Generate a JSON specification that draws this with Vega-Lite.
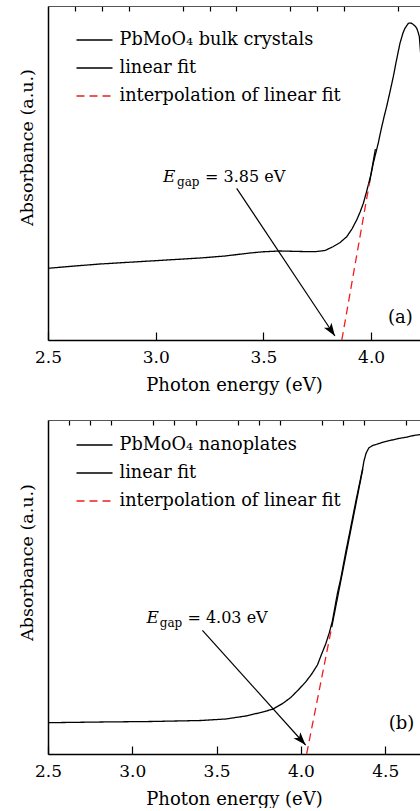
{
  "$schema": "https://vega.github.io/schema/vega-lite/v6.json",
  "padding": {"left": 18, "top": 5, "right": 0, "bottom": 0},
  "spacing": 25,
  "config": {
    "view": {"stroke": null},
    "font": "DejaVu Serif",
    "axis": {"labelFont": "DejaVu Serif", "titleFont": "DejaVu Serif", "labelColor": "black", "titleColor": "black", "titleFontWeight": "normal", "domainColor": "black", "tickColor": "black", "grid": false, "labelFontSize": 17, "titleFontSize": 18, "labelFlush": false},
    "text": {"font": "DejaVu Serif", "color": "black"}
  },
  "resolve": {"scale": {"color": "independent", "strokeDash": "independent"}, "legend": {"color": "independent", "strokeDash": "independent"}},
  "vconcat": [
    {
      "width": 372,
      "height": 334,
      "resolve": {"axis": {"x": "independent"}},
      "encoding": {
        "y": {"field": "A", "type": "quantitative", "scale": {"domain": [0, 1], "nice": false, "zero": false},
          "axis": {"title": "Absorbance (a.u.)", "titleFontSize": 17.5, "ticks": false, "labels": false, "domainWidth": 1.5, "titlePadding": 12, "titleY": 141}}
      },
      "layer": [
        {
          "data": {"values": [
            {"series": "PbMoO₄ bulk crystals", "E": 2.5, "A": 0.2147},
            {"series": "PbMoO₄ bulk crystals", "E": 2.625, "A": 0.2216},
            {"series": "PbMoO₄ bulk crystals", "E": 2.741, "A": 0.2275},
            {"series": "PbMoO₄ bulk crystals", "E": 2.857, "A": 0.2320},
            {"series": "PbMoO₄ bulk crystals", "E": 2.974, "A": 0.2365},
            {"series": "PbMoO₄ bulk crystals", "E": 3.090, "A": 0.2410},
            {"series": "PbMoO₄ bulk crystals", "E": 3.206, "A": 0.2455},
            {"series": "PbMoO₄ bulk crystals", "E": 3.322, "A": 0.2515},
            {"series": "PbMoO₄ bulk crystals", "E": 3.438, "A": 0.2605},
            {"series": "PbMoO₄ bulk crystals", "E": 3.498, "A": 0.2641},
            {"series": "PbMoO₄ bulk crystals", "E": 3.577, "A": 0.2665},
            {"series": "PbMoO₄ bulk crystals", "E": 3.670, "A": 0.2650},
            {"series": "PbMoO₄ bulk crystals", "E": 3.740, "A": 0.2644},
            {"series": "PbMoO₄ bulk crystals", "E": 3.786, "A": 0.2680},
            {"series": "PbMoO₄ bulk crystals", "E": 3.823, "A": 0.2793},
            {"series": "PbMoO₄ bulk crystals", "E": 3.856, "A": 0.2919},
            {"series": "PbMoO₄ bulk crystals", "E": 3.887, "A": 0.3093},
            {"series": "PbMoO₄ bulk crystals", "E": 3.911, "A": 0.3323},
            {"series": "PbMoO₄ bulk crystals", "E": 3.933, "A": 0.3593},
            {"series": "PbMoO₄ bulk crystals", "E": 3.949, "A": 0.3832},
            {"series": "PbMoO₄ bulk crystals", "E": 3.964, "A": 0.4093},
            {"series": "PbMoO₄ bulk crystals", "E": 3.976, "A": 0.4371},
            {"series": "PbMoO₄ bulk crystals", "E": 3.987, "A": 0.4641},
            {"series": "PbMoO₄ bulk crystals", "E": 4.000, "A": 0.4970},
            {"series": "PbMoO₄ bulk crystals", "E": 4.010, "A": 0.5290},
            {"series": "PbMoO₄ bulk crystals", "E": 4.023, "A": 0.5629},
            {"series": "PbMoO₄ bulk crystals", "E": 4.033, "A": 0.5889},
            {"series": "PbMoO₄ bulk crystals", "E": 4.046, "A": 0.6287},
            {"series": "PbMoO₄ bulk crystals", "E": 4.060, "A": 0.6677},
            {"series": "PbMoO₄ bulk crystals", "E": 4.072, "A": 0.6985},
            {"series": "PbMoO₄ bulk crystals", "E": 4.088, "A": 0.7440},
            {"series": "PbMoO₄ bulk crystals", "E": 4.103, "A": 0.7883},
            {"series": "PbMoO₄ bulk crystals", "E": 4.118, "A": 0.8383},
            {"series": "PbMoO₄ bulk crystals", "E": 4.134, "A": 0.8883},
            {"series": "PbMoO₄ bulk crystals", "E": 4.148, "A": 0.9192},
            {"series": "PbMoO₄ bulk crystals", "E": 4.157, "A": 0.9332},
            {"series": "PbMoO₄ bulk crystals", "E": 4.173, "A": 0.9482},
            {"series": "PbMoO₄ bulk crystals", "E": 4.185, "A": 0.9491},
            {"series": "PbMoO₄ bulk crystals", "E": 4.193, "A": 0.9461},
            {"series": "PbMoO₄ bulk crystals", "E": 4.204, "A": 0.9401},
            {"series": "PbMoO₄ bulk crystals", "E": 4.212, "A": 0.9332},
            {"series": "PbMoO₄ bulk crystals", "E": 4.218, "A": 0.9222},
            {"series": "PbMoO₄ bulk crystals", "E": 4.224, "A": 0.9081},
            {"series": "PbMoO₄ bulk crystals", "E": 4.227, "A": 0.8832},
            {"series": "PbMoO₄ bulk crystals", "E": 4.236, "A": 0.8084},
            {"series": "linear fit", "E": 3.992, "A": 0.4692},
            {"series": "linear fit", "E": 4.020, "A": 0.5718},
            {"series": "interpolation of linear fit", "E": 3.864, "A": 0.0},
            {"series": "interpolation of linear fit", "E": 3.992, "A": 0.4692}
          ]},
          "mark": {"type": "line", "strokeWidth": 1.3, "clip": true},
          "encoding": {
            "x": {"field": "E", "type": "quantitative", "scale": {"domain": [2.5, 4.227], "nice": false, "zero": false},
              "axis": {"values": [2.5, 3, 3.5, 4], "format": ".1f", "tickSize": -8, "tickWidth": 1.2, "domainWidth": 1.5, "labelPadding": 17, "title": "Photon energy (eV)", "titlePadding": 11}},
            "color": {"field": "series", "type": "nominal",
              "scale": {"domain": ["PbMoO₄ bulk crystals", "linear fit", "interpolation of linear fit"], "range": ["black", "black", "#f01e1e"]},
              "legend": {"orient": "none", "legendX": 27.5, "legendY": 15, "title": null, "symbolType": "stroke", "symbolSize": 1296, "symbolStrokeWidth": 1.3, "labelFont": "DejaVu Serif", "labelFontSize": 17.7, "labelColor": "black", "labelOffset": 6, "labelLimit": 400, "rowPadding": -1.3, "padding": 0}},
            "strokeDash": {"field": "series", "type": "nominal",
              "scale": {"domain": ["PbMoO₄ bulk crystals", "linear fit", "interpolation of linear fit"], "range": [[1, 0], [1, 0], [8, 5]]},
              "legend": {"orient": "none", "legendX": 27.5, "legendY": 15, "title": null, "symbolType": "stroke", "symbolSize": 1296, "symbolStrokeWidth": 1.3, "labelFont": "DejaVu Serif", "labelFontSize": 17.7, "labelColor": "black", "labelOffset": 6, "labelLimit": 400, "rowPadding": -1.3, "padding": 0}}
          }
        },
        {
          "data": {"values": [{"E": 3.376, "A": 0.4542, "E2": 3.832, "A2": 0.012}]},
          "mark": {"type": "rule", "strokeWidth": 1.2, "color": "black"},
          "encoding": {
            "x": {"field": "E", "type": "quantitative", "scale": {"domain": [2.5, 4.227], "nice": false, "zero": false},
              "axis": {"values": [2.625, 2.75, 2.875, 3.125, 3.25, 3.375, 3.625, 3.75, 3.875, 4.125], "tickSize": -5, "tickWidth": 1.2, "labels": false, "domain": false, "title": null}},
            "x2": {"field": "E2"},
            "y2": {"field": "A2"}
          }
        },
        {
          "data": {"values": [{"E": 3.832, "A": 0.012}]},
          "mark": {"type": "point", "filled": true, "opacity": 1, "color": "black", "shape": "M0,0 L0.7,2 L0,1.5 L-0.7,2 Z", "size": 169, "angle": 146.4},
          "encoding": {
            "x": {"field": "E", "type": "quantitative", "scale": {"domain": [2.5, 4.227], "nice": false, "zero": false},
              "axis": {"orient": "top", "labels": false, "ticks": false, "title": null, "domainColor": "#555555", "domainWidth": 1.2}}
          }
        },
        {
          "data": {"values": [{"E": 3.034, "A": 0.474, "t": "E"}]},
          "mark": {"type": "text", "align": "left", "baseline": "alphabetic", "fontSize": 17, "fontStyle": "italic"},
          "encoding": {"x": {"field": "E", "type": "quantitative", "axis": null}, "text": {"field": "t"}}
        },
        {
          "data": {"values": [{"E": 3.099, "A": 0.461, "t": "gap"}]},
          "mark": {"type": "text", "align": "left", "baseline": "alphabetic", "fontSize": 12},
          "encoding": {"x": {"field": "E", "type": "quantitative", "axis": null}, "text": {"field": "t"}}
        },
        {
          "data": {"values": [{"E": 3.229, "A": 0.474, "t": "= 3.85 eV"}]},
          "mark": {"type": "text", "align": "left", "baseline": "alphabetic", "fontSize": 16},
          "encoding": {"x": {"field": "E", "type": "quantitative", "axis": null}, "text": {"field": "t"}}
        },
        {
          "data": {"values": [{"E": 4.0785, "A": 0.050, "t": "(a)"}]},
          "mark": {"type": "text", "align": "left", "baseline": "alphabetic", "fontSize": 18},
          "encoding": {"x": {"field": "E", "type": "quantitative", "axis": null}, "text": {"field": "t"}}
        }
      ]
    },
    {
      "width": 372,
      "height": 334,
      "resolve": {"axis": {"x": "independent"}},
      "encoding": {
        "y": {"field": "A", "type": "quantitative", "scale": {"domain": [0, 1], "nice": false, "zero": false},
          "axis": {"title": "Absorbance (a.u.)", "titleFontSize": 17.5, "ticks": false, "labels": false, "domainWidth": 1.5, "titlePadding": 12, "titleY": 142}}
      },
      "layer": [
        {
          "data": {"values": [
            {"series": "PbMoO₄ nanoplates", "E": 2.5, "A": 0.0937},
            {"series": "PbMoO₄ nanoplates", "E": 2.813, "A": 0.0958},
            {"series": "PbMoO₄ nanoplates", "E": 3.109, "A": 0.0973},
            {"series": "PbMoO₄ nanoplates", "E": 3.406, "A": 0.1003},
            {"series": "PbMoO₄ nanoplates", "E": 3.554, "A": 0.1048},
            {"series": "PbMoO₄ nanoplates", "E": 3.673, "A": 0.1138},
            {"series": "PbMoO₄ nanoplates", "E": 3.762, "A": 0.1243},
            {"series": "PbMoO₄ nanoplates", "E": 3.831, "A": 0.1338},
            {"series": "PbMoO₄ nanoplates", "E": 3.892, "A": 0.1512},
            {"series": "PbMoO₄ nanoplates", "E": 3.940, "A": 0.1692},
            {"series": "PbMoO₄ nanoplates", "E": 3.987, "A": 0.1931},
            {"series": "PbMoO₄ nanoplates", "E": 4.028, "A": 0.2156},
            {"series": "PbMoO₄ nanoplates", "E": 4.064, "A": 0.2395},
            {"series": "PbMoO₄ nanoplates", "E": 4.098, "A": 0.2665},
            {"series": "PbMoO₄ nanoplates", "E": 4.123, "A": 0.2994},
            {"series": "PbMoO₄ nanoplates", "E": 4.147, "A": 0.3293},
            {"series": "PbMoO₄ nanoplates", "E": 4.168, "A": 0.3623},
            {"series": "PbMoO₄ nanoplates", "E": 4.187, "A": 0.3982},
            {"series": "PbMoO₄ nanoplates", "E": 4.203, "A": 0.4431},
            {"series": "PbMoO₄ nanoplates", "E": 4.217, "A": 0.4820},
            {"series": "PbMoO₄ nanoplates", "E": 4.236, "A": 0.5240},
            {"series": "PbMoO₄ nanoplates", "E": 4.266, "A": 0.6048},
            {"series": "PbMoO₄ nanoplates", "E": 4.295, "A": 0.6775},
            {"series": "PbMoO₄ nanoplates", "E": 4.325, "A": 0.7545},
            {"series": "PbMoO₄ nanoplates", "E": 4.355, "A": 0.8272},
            {"series": "PbMoO₄ nanoplates", "E": 4.367, "A": 0.8563},
            {"series": "PbMoO₄ nanoplates", "E": 4.374, "A": 0.8772},
            {"series": "PbMoO₄ nanoplates", "E": 4.387, "A": 0.9012},
            {"series": "PbMoO₄ nanoplates", "E": 4.404, "A": 0.9171},
            {"series": "PbMoO₄ nanoplates", "E": 4.426, "A": 0.9237},
            {"series": "PbMoO₄ nanoplates", "E": 4.454, "A": 0.9281},
            {"series": "PbMoO₄ nanoplates", "E": 4.491, "A": 0.9341},
            {"series": "PbMoO₄ nanoplates", "E": 4.533, "A": 0.9392},
            {"series": "PbMoO₄ nanoplates", "E": 4.580, "A": 0.9446},
            {"series": "PbMoO₄ nanoplates", "E": 4.632, "A": 0.9491},
            {"series": "PbMoO₄ nanoplates", "E": 4.669, "A": 0.9536},
            {"series": "PbMoO₄ nanoplates", "E": 4.711, "A": 0.9566},
            {"series": "PbMoO₄ nanoplates", "E": 4.728, "A": 0.9581},
            {"series": "linear fit", "E": 4.183, "A": 0.3802},
            {"series": "linear fit", "E": 4.367, "A": 0.8533},
            {"series": "interpolation of linear fit", "E": 4.034, "A": 0.0},
            {"series": "interpolation of linear fit", "E": 4.183, "A": 0.3802}
          ]},
          "mark": {"type": "line", "strokeWidth": 1.3, "clip": true},
          "encoding": {
            "x": {"field": "E", "type": "quantitative", "scale": {"domain": [2.5, 4.7064], "nice": false, "zero": false},
              "axis": {"values": [2.5, 3, 3.5, 4, 4.5], "format": ".1f", "tickSize": -8, "tickWidth": 1.2, "domainWidth": 1.5, "labelPadding": 17, "title": "Photon energy (eV)", "titlePadding": 11}},
            "color": {"field": "series", "type": "nominal",
              "scale": {"domain": ["PbMoO₄ nanoplates", "linear fit", "interpolation of linear fit"], "range": ["black", "black", "#f01e1e"]},
              "legend": {"orient": "none", "legendX": 27.5, "legendY": 6, "title": null, "symbolType": "stroke", "symbolSize": 1296, "symbolStrokeWidth": 1.3, "labelFont": "DejaVu Serif", "labelFontSize": 17.7, "labelColor": "black", "labelOffset": 6, "labelLimit": 400, "rowPadding": -1.3, "padding": 0}},
            "strokeDash": {"field": "series", "type": "nominal",
              "scale": {"domain": ["PbMoO₄ nanoplates", "linear fit", "interpolation of linear fit"], "range": [[1, 0], [1, 0], [8, 5]]},
              "legend": {"orient": "none", "legendX": 27.5, "legendY": 6, "title": null, "symbolType": "stroke", "symbolSize": 1296, "symbolStrokeWidth": 1.3, "labelFont": "DejaVu Serif", "labelFontSize": 17.7, "labelColor": "black", "labelOffset": 6, "labelLimit": 400, "rowPadding": -1.3, "padding": 0}}
          }
        },
        {
          "data": {"values": [{"E": 3.416, "A": 0.3704, "E2": 4.028, "A2": 0.027}]},
          "mark": {"type": "rule", "strokeWidth": 1.2, "color": "black"},
          "encoding": {
            "x": {"field": "E", "type": "quantitative", "scale": {"domain": [2.5, 4.7064], "nice": false, "zero": false},
              "axis": {"values": [2.625, 2.75, 2.875, 3.125, 3.25, 3.375, 3.625, 3.75, 3.875, 4.125, 4.25, 4.375, 4.625], "tickSize": -5, "tickWidth": 1.2, "labels": false, "domain": false, "title": null}},
            "x2": {"field": "E2"},
            "y2": {"field": "A2"}
          }
        },
        {
          "data": {"values": [{"E": 4.028, "A": 0.027}]},
          "mark": {"type": "point", "filled": true, "opacity": 1, "color": "black", "shape": "M0,0 L0.7,2 L0,1.5 L-0.7,2 Z", "size": 169, "angle": 138},
          "encoding": {
            "x": {"field": "E", "type": "quantitative", "scale": {"domain": [2.5, 4.7064], "nice": false, "zero": false},
              "axis": {"orient": "top", "labels": false, "ticks": false, "title": null, "domainColor": "#555555", "domainWidth": 1.2}}
          }
        },
        {
          "data": {"values": [{"E": 3.084, "A": 0.3931, "t": "E"}]},
          "mark": {"type": "text", "align": "left", "baseline": "alphabetic", "fontSize": 17, "fontStyle": "italic"},
          "encoding": {"x": {"field": "E", "type": "quantitative", "axis": null}, "text": {"field": "t"}}
        },
        {
          "data": {"values": [{"E": 3.1625, "A": 0.3802, "t": "gap"}]},
          "mark": {"type": "text", "align": "left", "baseline": "alphabetic", "fontSize": 12},
          "encoding": {"x": {"field": "E", "type": "quantitative", "axis": null}, "text": {"field": "t"}}
        },
        {
          "data": {"values": [{"E": 3.327, "A": 0.3931, "t": "= 4.03 eV"}]},
          "mark": {"type": "text", "align": "left", "baseline": "alphabetic", "fontSize": 16},
          "encoding": {"x": {"field": "E", "type": "quantitative", "axis": null}, "text": {"field": "t"}}
        },
        {
          "data": {"values": [{"E": 4.5207, "A": 0.074, "t": "(b)"}]},
          "mark": {"type": "text", "align": "left", "baseline": "alphabetic", "fontSize": 18},
          "encoding": {"x": {"field": "E", "type": "quantitative", "axis": null}, "text": {"field": "t"}}
        }
      ]
    }
  ]
}
